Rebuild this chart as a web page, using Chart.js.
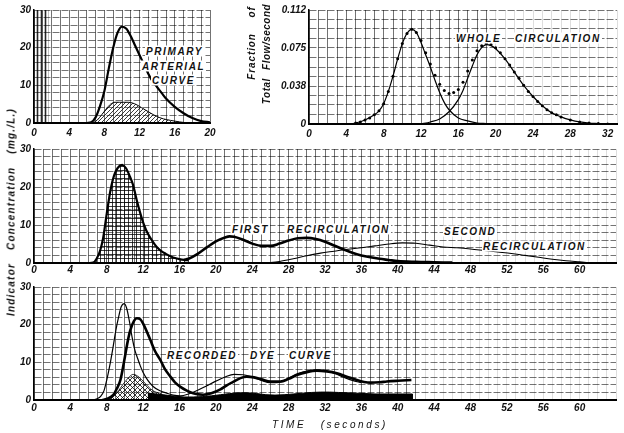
<!DOCTYPE html>
<html>
<head>
<meta charset="utf-8">
<script src="https://cdn.jsdelivr.net/npm/chart.js@4.4.1/dist/chart.umd.min.js"></script>
<style>
  body { margin: 0; background: #fff; width: 624px; height: 433px; position: relative; overflow: hidden; }
  canvas { position: absolute; }
  .note { position: absolute; font: italic bold 10px "Liberation Sans", Arial, sans-serif; letter-spacing: 1.6px;
          color: #111; background: #fff; line-height: 11px; padding: 0 1px; white-space: nowrap; transform: translateY(-50%); }
  .vtitle { position: absolute; font: italic bold 10px "Liberation Sans", Arial, sans-serif; letter-spacing: 1.2px; word-spacing: 9px;
            color: #111; white-space: nowrap; transform: translate(-50%, -50%) rotate(-90deg); }
  .time { position: absolute; left: 272px; top: 419px; font: italic 10px "Liberation Sans", Arial, sans-serif;
          letter-spacing: 2.6px; word-spacing: 9px; color: #111; white-space: nowrap; }
</style>
</head>
<body>
<canvas id="arterial" width="222" height="142" style="left:0;top:0"></canvas>
<canvas id="flow" width="394" height="142" style="left:230px;top:0"></canvas>
<canvas id="recirc" width="624" height="133" style="left:0;top:142px"></canvas>
<canvas id="recorded" width="624" height="158" style="left:0;top:275px"></canvas>

<div class="note" style="left:145px;top:51px">PRIMARY</div>
<div class="note" style="left:141px;top:66px">ARTERIAL</div>
<div class="note" style="left:151px;top:80px">CURVE</div>
<div class="note" style="left:455px;top:38px">WHOLE</div>
<div class="note" style="left:514px;top:38px">CIRCULATION</div>
<div class="note" style="left:231px;top:229px">FIRST</div>
<div class="note" style="left:286px;top:229px">RECIRCULATION</div>
<div class="note" style="left:443px;top:231px">SECOND</div>
<div class="note" style="left:482px;top:246px">RECIRCULATION</div>
<div class="note" style="left:166px;top:355px">RECORDED</div>
<div class="note" style="left:249px;top:355px">DYE</div>
<div class="note" style="left:288px;top:355px">CURVE</div>

<div class="vtitle" style="left:11px;top:212px">Indicator Concentration (mg./L.)</div>
<div class="vtitle" style="left:251px;top:43px;letter-spacing:0.9px;word-spacing:12px">Fraction of</div>
<div class="vtitle" style="left:266px;top:54px;letter-spacing:0.5px;word-spacing:5px">Total Flow/second</div>
<div class="time">TIME (seconds)</div>

<script>
// --- top left: primary arterial curve (mg/L vs s)
const arterialT = [6, 6.5, 7, 7.5, 8, 8.5, 9, 9.5, 10, 10.5, 11, 11.5, 12, 12.5, 13, 13.5, 14, 14.5, 15, 16, 17, 18, 19, 20];
const arterialC = [0, 0.2, 1.5, 4.5, 8.5, 14.5, 20, 24, 25.6, 25, 23, 20.5, 18, 15.5, 13, 11, 9.5, 8, 6.5, 4.3, 2.6, 1.3, 0.5, 0.2];
const mixT = [6.7, 7.2, 7.7, 8.2, 8.7, 9.2, 9.7, 10.2, 10.7, 11.2, 11.7, 12.2, 12.7, 13.2, 13.9, 14.7, 15.5, 16.5, 17.5];
const mixC = [0, 0.8, 2.2, 3.7, 5, 5.5, 5.5, 5.5, 5.5, 5.3, 4.8, 4.1, 3.4, 2.7, 1.8, 1.1, 0.7, 0.3, 0];
const injectT = [0, 1.7];
const injectC = [30, 30];

// --- top right: fraction of total flow per second
const firstPassT = [4, 5, 6, 7, 7.5, 8, 8.5, 9, 9.5, 10, 10.5, 11, 11.5, 12, 12.5, 13, 13.5, 14, 14.5, 15, 16, 17, 18, 19, 20];
const firstPassF = [0, 0.001, 0.004, 0.009, 0.013, 0.02, 0.032, 0.047, 0.064, 0.079, 0.089, 0.093, 0.09, 0.08, 0.068, 0.056, 0.043, 0.031, 0.021, 0.014, 0.006, 0.003, 0.001, 0.0005, 0];
const secondPassT = [12, 13, 14, 15, 16, 16.5, 17, 17.5, 18, 18.5, 19, 19.5, 20, 21, 22, 23, 24, 25, 26, 27, 28, 29, 30, 31, 32];
const secondPassF = [0, 0.002, 0.005, 0.012, 0.024, 0.033, 0.045, 0.057, 0.068, 0.075, 0.078, 0.077, 0.074, 0.064, 0.051, 0.038, 0.027, 0.018, 0.011, 0.007, 0.004, 0.002, 0.001, 0.0005, 0];
const wholeT = [5, 5.5, 6, 6.5, 7, 7.5, 8, 8.5, 9, 9.5, 10, 10.5, 11, 11.5, 12, 12.5, 13, 13.5, 14, 14.5,
                15, 15.5, 16, 16.5, 17, 17.5, 18, 18.5, 19, 19.5, 20, 20.5, 21, 21.5, 22, 22.5, 23, 23.5, 24, 24.5,
                25, 25.5, 26, 26.5, 27, 28, 29, 30, 31, 32];
const wholeF = [0.001, 0.002, 0.004, 0.006, 0.009, 0.013, 0.02, 0.032, 0.047, 0.064, 0.079, 0.089, 0.093, 0.09, 0.082, 0.07, 0.059, 0.048, 0.039, 0.033,
                0.03, 0.031, 0.034, 0.041, 0.052, 0.063, 0.072, 0.077, 0.079, 0.078, 0.075, 0.07, 0.064, 0.058, 0.051, 0.045, 0.038, 0.032, 0.027, 0.022,
                0.018, 0.014, 0.011, 0.009, 0.007, 0.004, 0.002, 0.001, 0.0005, 0];
const flowTickLabels = ['0', '0.038', '0.075', '0.112'];

// --- middle: primary curve + recirculations
const mainT = [6, 6.5, 6.9, 7.3, 7.6, 8.0, 8.4, 8.8, 9.2, 9.7, 10.1, 10.5, 10.9, 11.3, 11.7, 12.1, 12.5, 13, 13.5, 14, 14.5, 15, 15.5, 16, 16.5, 17];
const mainC = [0, 0.1, 1.2, 3.5, 6.5, 13, 19, 23, 25, 25.8, 25, 23, 20.5, 16.5, 13, 10, 7.8, 5.8, 4.2, 3.1, 2.4, 1.8, 1.3, 1.0, 0.8, 0.7];
const firstRecircT = [16.5, 17, 18, 19, 20, 21, 21.5, 22, 23, 24, 25, 26, 27, 28, 29, 30, 31, 32, 33, 34, 35, 36, 37, 38, 39, 40, 42, 44, 46];
const firstRecircC = [0.8, 1.1, 2.4, 4.1, 5.7, 6.7, 7, 6.9, 6.1, 5.1, 4.5, 4.5, 5.1, 5.9, 6.5, 6.6, 6.3, 5.6, 4.6, 3.6, 2.7, 2.0, 1.5, 1.1, 0.8, 0.5, 0.3, 0.2, 0.1];
const secondRecircT = [25.5, 27, 28.5, 30, 31.5, 33, 34.5, 36, 37.5, 39, 40.5, 42, 43.5, 45, 46.5, 48, 49.5, 51, 52.5, 54, 55.5, 57, 58.5, 60, 61.5];
const secondRecircC = [0, 0.4, 1.1, 1.9, 2.6, 3.1, 3.6, 4.0, 4.5, 5.0, 5.3, 5.2, 4.7, 4.2, 4.0, 3.7, 3.3, 2.9, 2.5, 2.0, 1.5, 1.0, 0.6, 0.3, 0];

// --- bottom: recorded dye curve
const totalT = [6.5, 7, 7.3, 7.7, 8, 8.4, 8.7, 9, 9.3, 9.6, 9.9, 10.2, 10.5, 10.8, 11.1, 11.4, 11.7, 12, 12.5, 13.1,
                13.8, 14.6, 15.3, 16.1, 17, 18, 19, 20, 21, 22, 23, 24, 25, 26, 27, 28, 29, 30, 31, 32, 33, 34, 35, 36];
const totalC = [0, 0.4, 0.9, 2.5, 5.3, 10, 14.1, 18.5, 22, 24.8, 25.6, 24.3, 20.8, 16.5, 13.2, 11, 9, 7.3, 5.3, 3.6,
                2.5, 1.8, 1.3, 1.1, 1.6, 2.6, 3.8, 5.0, 6.1, 6.8, 6.7, 6.1, 5.2, 4.6, 4.7, 5.8, 7.0, 7.7, 8.0, 7.8, 7.1, 6.1, 5.2, 4.6];
const recordedT = [7.5, 8, 8.7, 9.1, 9.5, 10, 10.3, 10.6, 11, 11.3, 11.7, 12, 12.4, 12.8, 13.3, 13.9, 14.4, 15, 15.5, 16.1,
                   16.8, 17.5, 18.6, 19.5, 20.5, 21.2, 21.9, 22.7, 23.4, 24.2, 25, 26, 27.1, 28, 28.9, 30, 31.1, 32.2, 33.3, 34.4,
                   35.5, 36.3, 37, 38, 38.8, 40, 41.5];
const recordedC = [0, 0.3, 1.3, 3, 5.3, 11.5, 15.5, 18.6, 21, 21.7, 21.4, 20.3, 18.2, 15.9, 13, 10.6, 8.2, 6.2, 4.7, 3.5,
                   2.5, 1.8, 1.4, 1.8, 2.8, 3.9, 4.8, 5.8, 6.2, 6.0, 5.5, 4.9, 4.9, 5.6, 6.6, 7.4, 7.8, 7.6, 7.1, 6.2,
                   5.3, 4.8, 4.6, 4.7, 4.9, 5.1, 5.3];
const humpT = [8, 8.7, 9.3, 9.9, 10.5, 10.9, 11.3, 11.8, 12.3, 12.8, 13.3, 14, 14.6];
const humpC = [0, 0.8, 2.5, 4.5, 6.2, 6.8, 6.5, 5.5, 4.2, 3, 2.2, 1.6, 0];
const bandT = [12.5, 13.5, 14.5, 15.5, 16.5, 17.5, 18.5, 19.5, 20.5, 21.5, 22.5, 23.5, 24.5, 25.5, 26.5, 27.5, 28.5, 29.5, 30.5, 31.5,
               32.5, 33.5, 34.5, 35.5, 36.5, 37.5, 38.5, 39.5, 40.5, 41.6, 41.6];
const bandC = [1.8, 1.6, 1.3, 1.0, 0.8, 0.8, 0.9, 1.1, 1.4, 1.7, 1.9, 1.9, 1.7, 1.4, 1.3, 1.4, 1.6, 1.8, 2.0, 2.1,
               2.1, 2.0, 1.9, 1.8, 1.7, 1.6, 1.6, 1.6, 1.6, 1.6, 0];

Chart.defaults.font.family = '"Liberation Sans", Arial, sans-serif';
const tickFont = { size: 10, style: 'italic', weight: 'bold' };

function pts(xs, ys) { return xs.map((x, i) => ({ x: x, y: ys[i] })); }
function steps(max, n) { return Array.from({ length: n + 1 }, (_, i) => ({ value: i * max / n })); }

// hatching fills like the ink drawing
function hatch(kind) {
  const c = document.createElement('canvas');
  const n = kind === 'cross' ? 5 : 4;
  c.width = n; c.height = n;
  const g = c.getContext('2d');
  g.strokeStyle = 'rgba(0,0,0,0.85)';
  g.lineWidth = kind === 'stripes' ? 1.6 : 0.9;
  g.beginPath();
  if (kind === 'grid') { g.moveTo(0.5, 0); g.lineTo(0.5, n); g.moveTo(0, 0.5); g.lineTo(n, 0.5); }
  if (kind === 'stripes') { g.moveTo(1.5, 0); g.lineTo(1.5, n); }
  if (kind === 'diag' || kind === 'cross') { g.moveTo(-1, n + 1); g.lineTo(n + 1, -1); }
  if (kind === 'cross') { g.moveTo(-1, -1); g.lineTo(n + 1, n + 1); }
  g.stroke();
  return g.createPattern(c, 'repeat');
}

function timeAxis(max, lastLabel, fadeFrom, height, pad) {
  return {
    type: 'linear', min: 0, max: max,
    afterBuildTicks: s => { s.ticks = steps(max, max); },
    ticks: { autoSkip: false, maxRotation: 0, padding: pad, color: '#111', font: tickFont,
      callback: v => (v % 4 === 0 && v <= lastLabel) ? String(v) : '' },
    grid: { drawTicks: false, lineWidth: 1,
      color: c => (c.tick && c.tick.value > fadeFrom) ? 'rgba(0,0,0,0.13)' : 'rgba(0,0,0,0.55)' },
    border: { color: '#000', width: 2 },
    afterFit: s => { s.height = height; s.paddingLeft = 0; s.paddingRight = 0; }
  };
}

function valueAxis(max, n, labelOf, width) {
  return {
    type: 'linear', min: 0, max: max,
    afterBuildTicks: s => { s.ticks = steps(max, n); },
    ticks: { autoSkip: false, padding: 3, color: '#111', font: tickFont, callback: (v, i) => labelOf(i) },
    grid: { drawTicks: false, lineWidth: 1, color: 'rgba(0,0,0,0.55)' },
    border: { color: '#000', width: 1.5, dash: [7, 2] },
    afterFit: s => { s.width = width; s.paddingTop = 0; s.paddingBottom = 0; }
  };
}

const concLabel = i => (i % 5 === 0 ? String(i * 2) : '');

function panel(id, datasets, pad, x, y) {
  return new Chart(document.getElementById(id), {
    type: 'line',
    data: { datasets: datasets },
    options: {
      responsive: false, animation: false,
      layout: { padding: pad },
      plugins: { legend: { display: false }, tooltip: { enabled: false } },
      elements: { point: { radius: 0 }, line: { cubicInterpolationMode: 'monotone', borderColor: '#000', fill: false } },
      scales: { x: x, y: y }
    }
  });
}

panel('arterial', [
  { data: pts(arterialT, arterialC), borderWidth: 2.2 },
  { data: pts(mixT, mixC), borderWidth: 1, fill: 'origin', backgroundColor: hatch('diag') },
  { data: pts(injectT, injectC), borderColor: 'rgba(0,0,0,0)', fill: 'origin', backgroundColor: hatch('stripes') }
], { top: 10, right: 12, left: 0, bottom: 0 }, timeAxis(20, 20, 99, 19, 4), valueAxis(30, 15, concLabel, 34));

panel('flow', [
  { data: pts(wholeT, wholeF), showLine: false, pointRadius: 1.5, pointBackgroundColor: '#000', pointBorderWidth: 0 },
  { data: pts(firstPassT, firstPassF), borderWidth: 1.2 },
  { data: pts(secondPassT, secondPassF), borderWidth: 1.2 }
], { top: 10, right: 7, left: 0, bottom: 0 }, timeAxis(33, 32, 19, 18, 4),
   valueAxis(0.112, 12, i => (i % 4 === 0 ? flowTickLabels[i / 4] : ''), 79));

panel('recirc', [
  { data: pts(mainT, mainC), borderWidth: 2.2, fill: 'origin', backgroundColor: hatch('grid') },
  { data: pts(firstRecircT, firstRecircC), borderWidth: 2.6 },
  { data: pts(secondRecircT, secondRecircC), borderWidth: 1.1 }
], { top: 7, right: 8, left: 0, bottom: 0 }, timeAxis(64, 60, 44, 12, 1), valueAxis(30, 15, concLabel, 34));

panel('recorded', [
  { data: pts(totalT, totalC), borderWidth: 1.2 },
  { data: pts(recordedT, recordedC), borderWidth: 2.6 },
  { data: pts(humpT, humpC), borderWidth: 0.8, fill: 'origin', backgroundColor: hatch('cross') },
  { data: pts(bandT, bandC), borderWidth: 1, cubicInterpolationMode: 'default', tension: 0, fill: 'origin', backgroundColor: '#000' }
], { top: 12, right: 8, left: 0, bottom: 0 }, timeAxis(64, 60, 42, 33, 2), valueAxis(30, 15, concLabel, 34));
</script>
</body>
</html>
